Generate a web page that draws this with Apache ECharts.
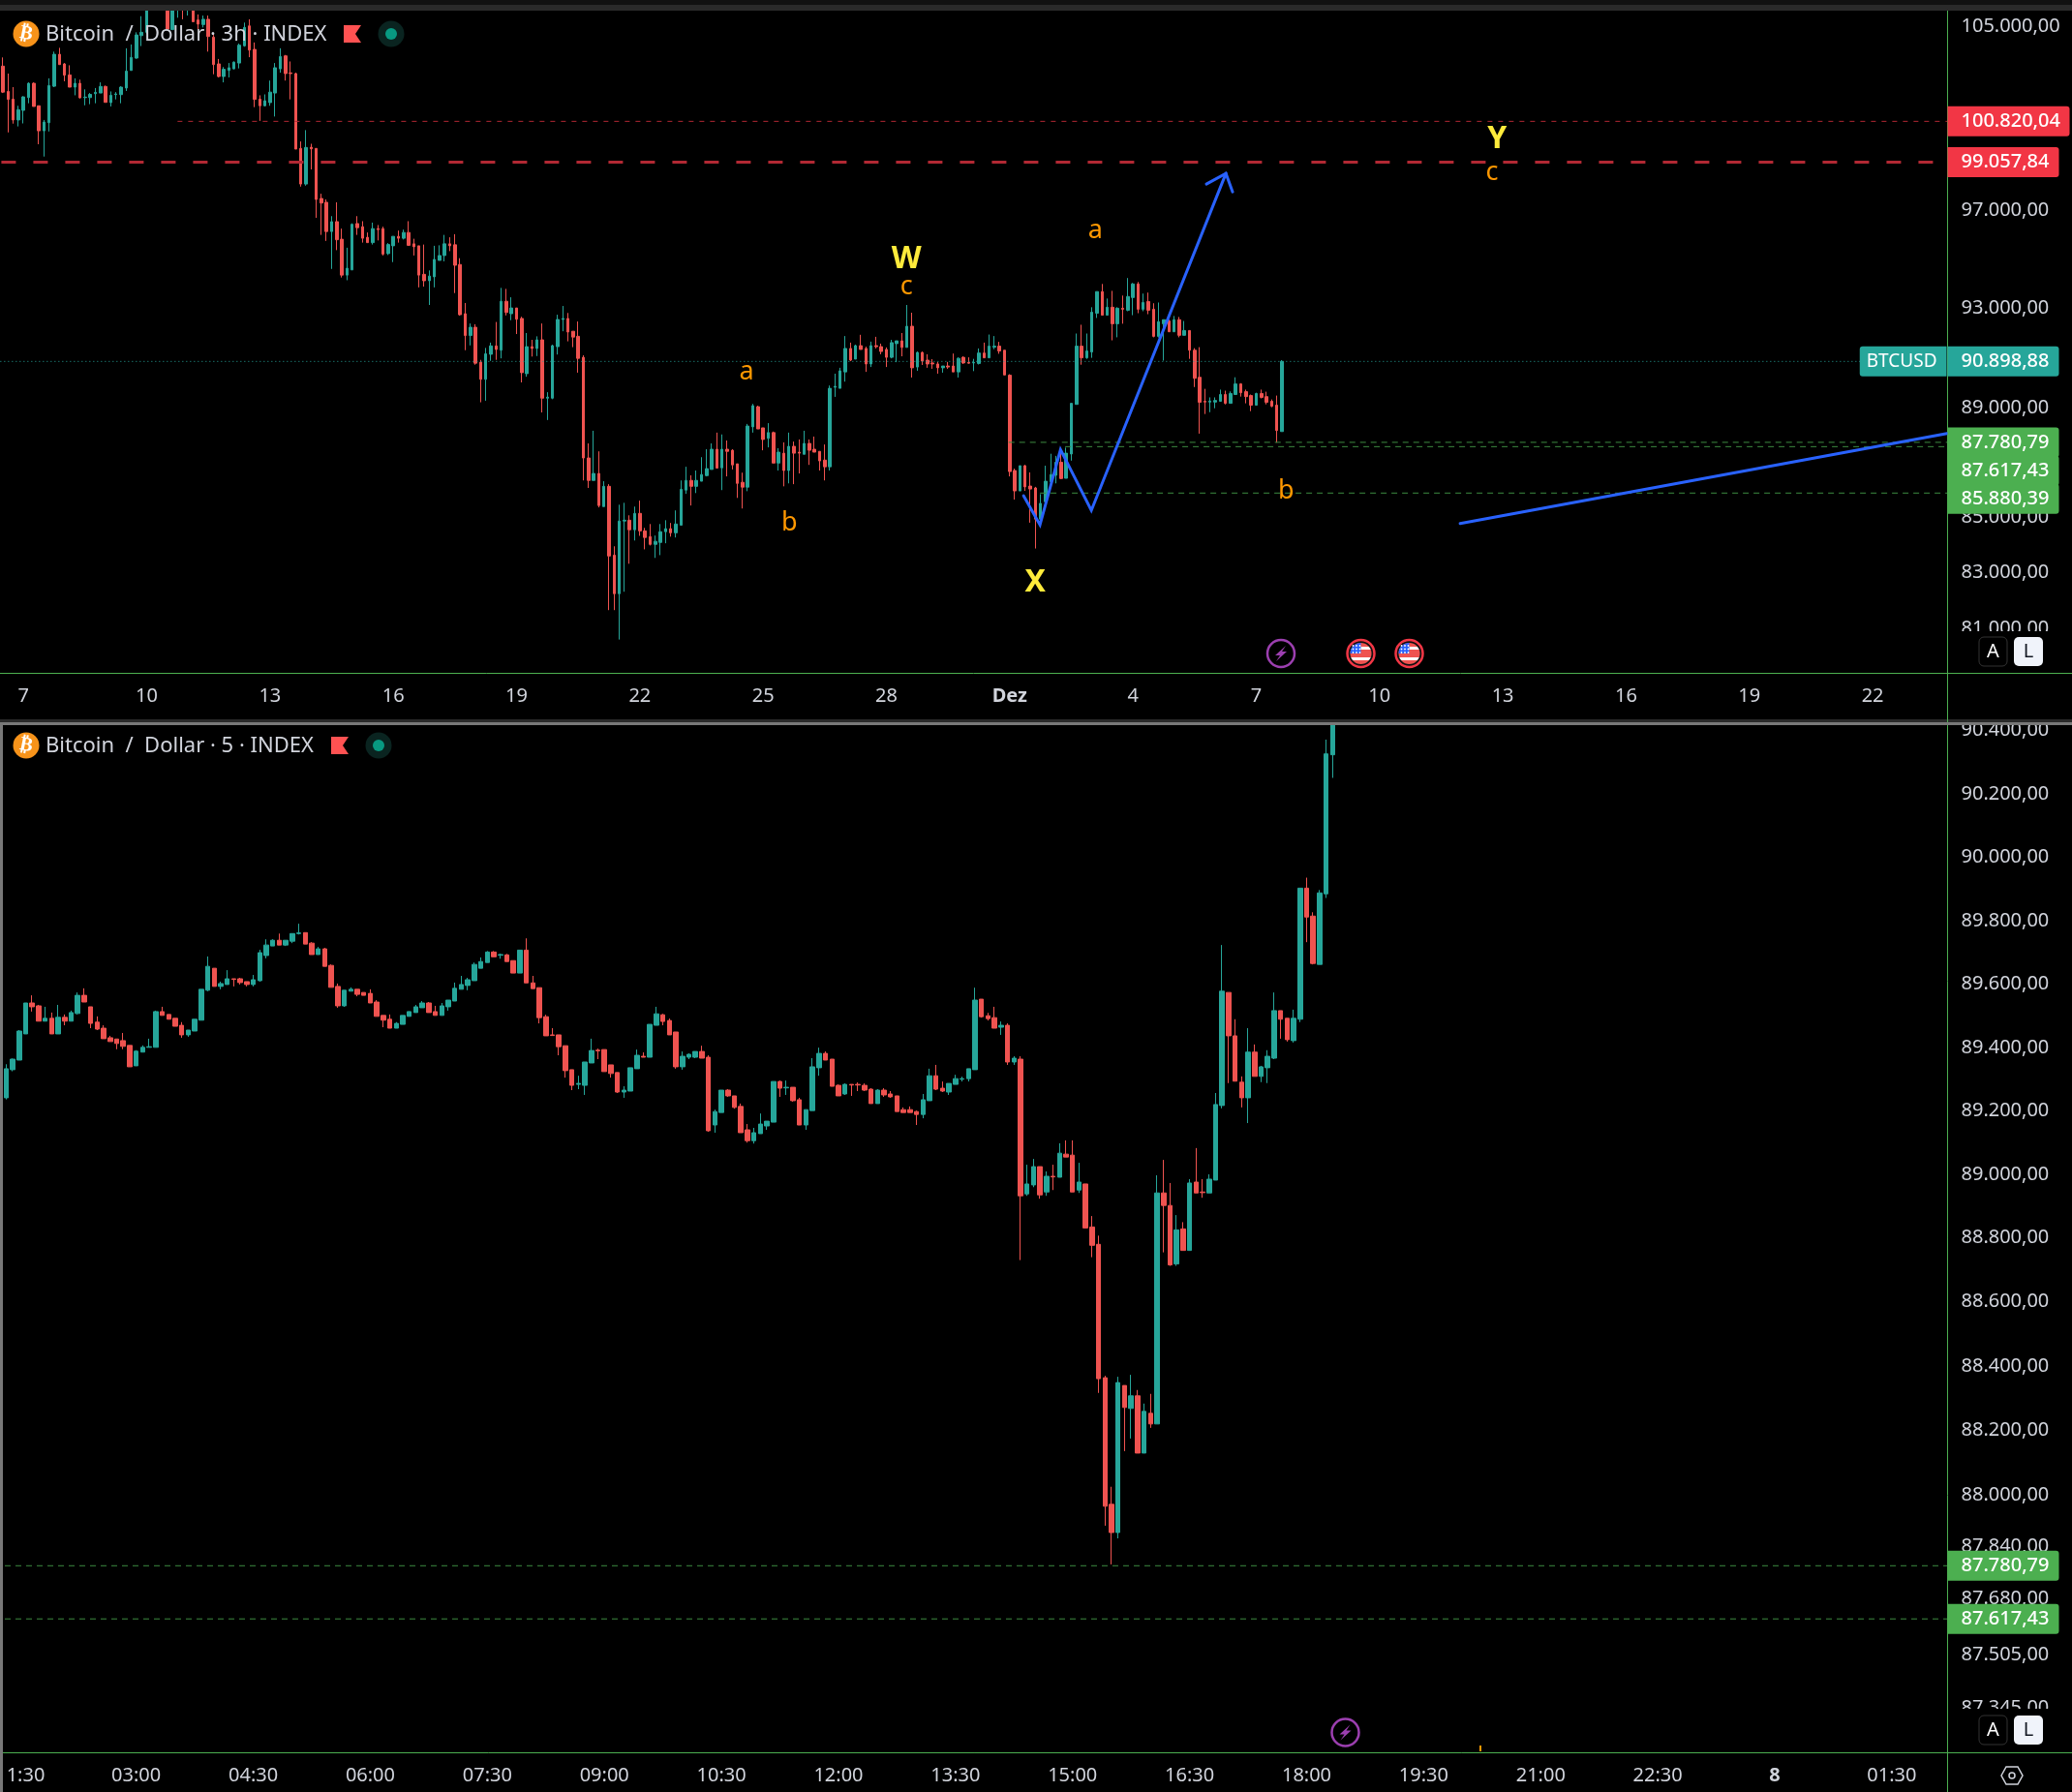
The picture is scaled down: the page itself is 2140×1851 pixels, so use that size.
<!DOCTYPE html>
<html>
<head>
<meta charset="utf-8">
<title>Bitcoin / Dollar</title>
<style>
  html, body { margin: 0; padding: 0; background: #000; }
  #chart { width: 2140px; height: 1851px; }
</style>
<script src="https://cdn.jsdelivr.net/npm/echarts@6/dist/echarts.min.js"></script>
</head>
<body>
<div id="chart"></div>
<script>
// 3h candles, [open, close, low, high]
const candles3h = [
[103250,102100,102060,103640],[102130,101780,100340,102920],[101790,100880,100720,102320],[100880,101330,100600,101500],
[101300,101890,100730,101920],[101860,102490,101610,102530],[102490,101470,101470,102530],[101500,100410,99830,101510],
[100410,100790,99300,100880],[100760,102390,100380,102710],[102360,103780,102320,103900],[103780,103320,103320,104070],
[103350,102850,102580,103390],[102860,102320,102320,103290],[102320,102490,101960,102710],[102490,101850,101820,102650],
[101860,101880,101520,102220],[101860,102000,101570,102060],[102030,102090,101610,102280],[102060,102350,102060,102530],
[102350,101650,101640,102390],[101640,101960,101470,102130],[101990,102020,101780,102100],[101990,102320,101610,102360],
[102280,103030,102150,104050],[103060,103640,103060,104220],[103610,104650,103580,104770],[104620,104770,104150,105500],
[104770,105900,104700,106200],[105900,106300,105800,106600],[106300,106500,106000,106900],[106500,106200,106000,106800],
[106200,104920,104920,106500],[104890,106000,104890,106300],[105900,106100,105430,106300],[106200,105900,105360,106400],
[105800,106100,105530,106300],[106000,105250,105250,106200],[105330,105140,104920,105580],[105120,105360,104990,105530],
[105360,104580,103900,105530],[104550,103320,102890,104650],[103350,102790,102750,103570],[102790,103110,102530,103210],
[103060,103180,102750,103390],[103130,103430,103110,103460],[103390,104190,103150,104260],[104160,104990,104120,105210],
[105060,103970,103650,105360],[104000,101780,101440,104310],[101790,101500,100840,101960],[101500,101720,101470,102000],
[101640,102100,101500,102610],[102060,103180,101030,103390],[103130,103680,102960,104050],[103710,102920,102610,103750],
[102950,102920,101780,103460],[102920,99620,99620,102960],[99650,98130,98020,99950],[98130,99690,98060,100440],
[99700,99630,98750,99850],[99650,97480,96710,99660],[97520,97330,96000,97720],[97360,96140,95750,97480],
[96140,96550,94600,96780],[96550,95800,95370,97360],[95820,94350,94250,96260],[94350,94630,94140,95470],
[94560,96440,94560,96480],[96470,96300,96000,96780],[96340,95860,95680,96570],[95900,95680,95680,96100],
[95680,96260,95600,96510],[96260,96220,95770,96410],[96260,95210,95150,96340],[95230,95600,95170,95660],
[95550,95940,94880,95940],[95940,95860,95680,96180],[95860,96100,95810,96220],[96100,95570,95550,96570],
[95630,95510,95150,95840],[95550,94350,93850,95550],[94380,94120,93880,95600],[94120,94310,93140,94540],
[94280,94990,93850,95550],[94950,95150,94950,95570],[95150,95630,94910,96000],[95630,95550,95330,95900],
[95590,94750,93620,96030],[94780,92750,92710,95040],[92790,91920,91340,93220],[91920,92250,91530,92400],
[92250,90830,90770,92370],[90870,90200,89310,90960],[90200,91200,89370,91430],[91180,91510,90920,91640],
[91510,91370,90960,92460],[91340,93290,91020,93830],[93290,92840,92720,93790],[92790,93020,92530,93450],
[93020,92570,91980,93020],[92600,90460,90080,92670],[90420,91480,90300,92020],[91480,91410,91090,91750],
[91410,91750,91110,91890],[91750,89470,88920,92400],[89470,89510,88630,89700],[89470,91520,89430,91560],
[91480,92560,91170,92750],[92560,92600,92090,93100],[92600,92060,91690,92820],[92090,91860,91460,92090],
[91890,91020,90460,92480],[91060,87190,86350,91140],[87190,86350,86070,87740],[86350,86610,86350,88220],
[86610,85420,85350,87440],[85380,86130,85380,86320],[86130,83580,81650,86210],[83610,82230,81650,83930],
[82230,84850,80620,85450],[84850,84880,82300,85520],[84880,84530,83300,85060],[84530,85130,84140,85380],
[85130,84490,84310,85600],[84490,84250,83820,84600],[84280,84000,83960,84740],[84000,84110,83510,84320],
[84070,84460,83610,84740],[84460,84570,84040,84880],[84570,84420,84280,84780],[84420,84740,84250,85240],
[84700,86020,84700,86350],[85990,86350,85850,86860],[86350,86130,85420,86540],[86130,86350,85880,86720],
[86320,86570,86320,87220],[86530,86790,86500,87520],[86760,87520,86760,87740],[87520,86810,86790,88150],
[86820,87520,85990,88080],[87520,87440,86500,87850],[87480,86930,86760,87520],[86970,86240,85700,86970],
[86280,86100,85310,86640],[86100,88400,85950,88480],[88370,89180,88150,89250],[89140,88290,88290,89180],
[88330,87890,87480,88330],[87930,88150,87590,88510],[88150,87000,87000,88190],[87000,87410,86720,87560],
[87370,86720,86130,87780],[86720,87630,86240,88150],[87630,87370,86210,87810],[87410,87370,86610,87890],
[87330,87740,87330,88220],[87740,87480,86930,87890],[87520,87410,87410,88000],[87440,87080,86720,87440],
[87110,86860,86350,87700],[86860,89850,86720,89960],[89890,89930,89520,90420],[89850,90530,89850,90650],
[90490,91410,90110,91900],[91410,90950,90910,91640],[90990,91520,90990,91560],[91520,91370,91370,91950],
[91410,90800,90490,91480],[90800,91520,90680,91680],[91520,91480,91410,91870],[91480,91290,91180,91600],
[91370,91060,90680,91450],[91060,91640,91020,91750],[91600,91710,90870,91710],[91710,91450,91100,92020],
[91450,92290,91450,93140],[92290,90650,90270,92830],[90680,91250,90530,91290],[91250,90910,90760,91290],
[90950,90800,90650,91180],[90840,90800,90610,90990],[90800,90650,90420,90880],[90650,90720,90460,90720],
[90720,90680,90610,90880],[90720,90490,90490,91210],[90490,91020,90270,91060],[91060,90840,90800,91100],
[90860,90830,90810,91060],[90840,90860,90520,91000],[90820,91230,90780,91410],[91230,91040,91040,91640],
[91040,91500,91040,91960],[91460,91500,91380,91900],[91500,91310,91200,91670],[91340,90370,90370,91340],
[90360,86680,86500,90400],[86720,85960,85640,86790],[85960,86900,85960,86900],[86900,86110,85960,86930],
[86140,86030,84790,86650],[86070,84920,83850,86110],[84920,85500,84920,85840],[85560,86320,85460,86900],
[86300,86570,86300,87350],[86540,87030,86240,87270],[87030,86420,86400,87390],[86430,87370,86430,87580],
[87340,89270,87090,89270],[89230,91500,89230,92000],[91500,91040,90770,92350],[91040,91310,91000,92000],
[91270,92850,91040,93050],[92810,93680,92620,93680],[93680,92730,92730,93990],[92730,93050,92730,93400],
[93050,92390,91730,93710],[92390,93010,91850,93050],[93010,92970,92390,93520],[92930,93480,92890,94230],
[93440,93990,92730,94030],[93990,92970,92810,94070],[92970,93240,92890,93600],[93280,92930,92770,93640],
[92970,91890,91850,93210],[91890,92470,91840,93240],[92390,92550,90930,92550],[92500,92070,92070,92550],
[92070,92550,92070,92700],[92550,91930,91850,92660],[91930,92120,91930,92500],[92120,91340,91000,92120],
[91340,90240,89900,91420],[90280,89310,88110,91460],[89350,89320,88860,89830],[89320,89360,88930,89500],
[89320,89380,89080,89500],[89350,89610,89350,89800],[89610,89270,89230,89760],[89270,89650,89270,89730],
[89610,90020,89610,90280],[90020,89680,89530,90050],[89720,89530,89270,89800],[89570,89200,88970,89610],
[89200,89650,89200,89680],[89650,89500,89460,89800],[89530,89310,89230,89720],[89350,89160,89120,89420],
[89200,88230,87770,89570],[88190,90900,88190,90950]
];

// 5 minute candles, [open, close, low, high]
const candles5m = [
[89232,89323,89227,89337],[89320,89353,89315,89355],[89350,89441,89350,89444],[89432,89529,89432,89529],
[89529,89517,89502,89553],[89520,89472,89472,89523],[89472,89481,89472,89517],[89481,89432,89432,89499],
[89432,89484,89432,89523],[89484,89472,89459,89493],[89472,89499,89472,89505],[89496,89553,89493,89562],
[89553,89532,89532,89575],[89517,89465,89450,89517],[89469,89447,89444,89487],[89450,89417,89417,89459],
[89420,89408,89408,89426],[89416,89402,89384,89416],[89411,89393,89384,89435],[89396,89329,89329,89396],
[89332,89378,89332,89381],[89375,89390,89375,89396],[89390,89392,89390,89417],[89390,89502,89390,89505],
[89502,89490,89490,89517],[89493,89478,89478,89493],[89481,89456,89456,89481],[89459,89429,89420,89469],
[89429,89444,89423,89444],[89441,89478,89441,89478],[89475,89572,89475,89572],[89569,89644,89566,89675],
[89638,89581,89581,89638],[89581,89590,89572,89596],[89587,89605,89587,89632],[89605,89603,89581,89605],
[89605,89593,89587,89608],[89596,89587,89581,89596],[89587,89602,89581,89617],[89599,89687,89596,89696],
[89678,89711,89669,89729],[89708,89726,89708,89729],[89726,89711,89711,89747],[89711,89726,89708,89726],
[89723,89747,89717,89747],[89747,89749,89744,89778],[89750,89714,89714,89750],[89717,89681,89681,89720],
[89681,89699,89681,89705],[89699,89644,89644,89702],[89647,89578,89578,89650],[89581,89520,89514,89590],
[89520,89569,89517,89569],[89566,89572,89566,89578],[89572,89556,89550,89572],[89562,89553,89553,89562],
[89559,89529,89529,89572],[89532,89487,89487,89538],[89490,89475,89453,89490],[89478,89450,89450,89493],
[89450,89465,89450,89469],[89462,89490,89462,89490],[89487,89502,89487,89502],[89499,89517,89499,89523],
[89514,89529,89514,89535],[89529,89499,89499,89532],[89502,89490,89490,89520],[89490,89520,89490,89529],
[89517,89538,89505,89538],[89535,89575,89535,89593],[89572,89587,89572,89614],[89584,89602,89569,89608],
[89599,89650,89599,89656],[89638,89659,89638,89672],[89656,89689,89656,89692],[89689,89674,89674,89692],
[89679,89681,89668,89684],[89680,89659,89659,89683],[89662,89623,89623,89662],[89623,89695,89623,89695],
[89695,89592,89592,89732],[89592,89574,89574,89614],[89577,89483,89465,89577],[89486,89426,89426,89492],
[89429,89427,89427,89450],[89429,89392,89365,89429],[89395,89317,89295,89395],[89320,89271,89256,89320],
[89274,89277,89259,89301],[89271,89344,89241,89344],[89341,89380,89341,89417],[89381,89379,89353,89386],
[89383,89314,89314,89383],[89335,89308,89295,89335],[89311,89250,89247,89311],[89250,89256,89232,89268],
[89253,89326,89253,89326],[89323,89365,89323,89383],[89362,89359,89359,89374],[89359,89462,89359,89462],
[89459,89495,89459,89517],[89492,89471,89459,89495],[89474,89429,89429,89480],[89438,89329,89323,89438],
[89329,89362,89320,89377],[89359,89368,89353,89371],[89359,89377,89356,89377],[89377,89356,89356,89395],
[89359,89129,89126,89365],[89147,89189,89123,89195],[89186,89256,89186,89256],[89256,89238,89235,89259],
[89238,89202,89198,89238],[89205,89123,89123,89214],[89132,89098,89092,89150],[89098,89123,89089,89138],
[89120,89150,89120,89183],[89144,89159,89132,89159],[89156,89283,89156,89283],[89283,89262,89235,89286],
[89263,89265,89241,89286],[89265,89223,89220,89265],[89226,89147,89147,89232],[89147,89195,89132,89195],
[89192,89329,89192,89356],[89326,89371,89301,89389],[89371,89350,89350,89377],[89353,89268,89268,89353],
[89271,89238,89238,89274],[89244,89274,89241,89277],[89274,89272,89238,89274],[89274,89272,89253,89280],
[89271,89256,89253,89277],[89259,89214,89214,89262],[89214,89256,89214,89259],[89256,89241,89235,89262],
[89244,89235,89232,89253],[89238,89189,89189,89238],[89195,89186,89186,89202],[89195,89186,89186,89205],
[89189,89180,89147,89192],[89180,89226,89168,89244],[89223,89301,89223,89323],[89301,89259,89256,89335],
[89262,89253,89250,89283],[89250,89277,89241,89277],[89274,89292,89274,89304],[89290,89292,89283,89298],
[89292,89323,89283,89323],[89320,89538,89320,89577],[89541,89486,89483,89541],[89489,89480,89474,89498],
[89483,89450,89450,89517],[89453,89459,89429,89471],[89459,89344,89335,89465],[89344,89356,89335,89362],
[89353,88926,88726,89362],[88932,88963,88926,89023],[88960,89017,88953,89041],[89017,88929,88917,89017],
[88938,88987,88926,89002],[88987,88985,88944,89023],[88984,89059,88984,89090],[89056,89047,89047,89099],
[89053,88938,88938,89099],[88944,88969,88935,89029],[88963,88826,88826,88963],[88829,88772,88735,88863],
[88775,88358,88314,88802],[88361,87964,87904,88367],[87970,87883,87785,88024],[87883,88346,87865,88364],
[88337,88269,88134,88337],[88266,88305,88173,88370],[88305,88128,88128,88323],[88128,88257,88128,88281],
[88251,88218,88206,88311],[88218,88935,88218,88990],[88935,88896,88750,89038],[88896,88711,88708,88966],
[88714,88820,88708,88866],[88823,88756,88756,88844],[88756,88966,88756,88978],[88969,88935,88935,89075],
[88938,88936,88920,88978],[88935,88978,88935,88993],[88975,89211,88975,89247],[89208,89566,89199,89711],
[89562,89426,89278,89562],[89426,89284,89284,89478],[89281,89232,89202,89299],[89232,89375,89153,89450],
[89375,89299,89299,89399],[89299,89329,89281,89332],[89326,89362,89278,89381],[89356,89505,89353,89562],
[89505,89478,89417,89505],[89481,89414,89408,89481],[89411,89481,89405,89508],[89478,89890,89469,89890],
[89890,89799,89720,89923],[89802,89653,89650,89814],[89650,89875,89650,89884],[89872,90314,89859,90359],
[90311,90408,90238,90408]
];

// time axis labels and the candle slot each one sits on
const topDayLabels = ['7','10','13','16','19','22','25','28','{b|Dez}','4','7','10','13','16','19','22'];
const topDaySlots = [4,28,52,76,100,124,148,172,196,220,244,268,292,316,340,364];
const lowTimeLabels = ['1:30','03:00','04:30','06:00','07:30','09:00','10:30','12:00','13:30','15:00','16:30','18:00','19:30','21:00','22:30','{b|8}','01:30'];
const lowTimeSlots = [3,20,38,56,74,92,110,128,146,164,182,200,218,236,254,272,290];

// price scale labels
const topPriceTicks = [105000,97000,93000,89000,85000,83000,81000];
const lowPriceTicks = [90400,90200,90000,89800,89600,89400,89200,89000,88800,88600,88400,88200,88000,87840,87680,87505,87345];
// small pixel shifts, the original scale rounds its labels a bit differently
const topTickShift = [-1,-1,0,-3,0,0,0];
const lowTickShift = [4,4,4,4,4,4,3,3,1,1,1,0,1,0,0,-1,0];

// levels drawn across the panes, price and first candle slot
const btcLast = 90898.88;
const redThin = 100820.04;
const redThinFrom = 34.5;
const redThick = 99057.84;
const greenLevels = [87780.79, 87617.43, 85880.39];
const greenFrom = [196.3, 207.3, 202.4];
const lowLevels = [87780.79, 87617.43];

// blue drawings on the upper pane, slot and price of each vertex
const zigzagSlots = [199.2, 202.4, 206.4, 212.4, 238.6];
const zigzagPrices = [85780, 84710, 87510, 85240, 98580];
const arrowSlots = [234.8, 238.6, 239.9];
const arrowPrices = [98130, 98580, 97800];
const trendSlots = [284.2, 379];
const trendPrices = [84760, 88120];

// wave letters
const waveText = ['W', 'X', 'Y'];
const waveSlots = [176.4, 201.5, 291.4];
const wavePrices = [95060, 82675, 100120];
const subText = ['c', 'a', 'b', 'a', 'b', 'c'];
const subSlots = [176.4, 145.3, 153.6, 213.2, 250.3, 290.4];
const subPrices = [93910, 90530, 84820, 96220, 85990, 98670];

const TOP_SLOTS = 379;
const LOW_SLOTS = 299;
const UP = '#26a69a';
const DOWN = '#ef5350';
const AXIS_GREEN = '#4caf50';
const TEXT = '#d1d4dc';
const FONT = '"Noto Sans", sans-serif';
const CLEAR = { color: 'rgba(0,0,0,0)', opacity: 1 };

const deNum = v => {
  const [a, b] = v.toFixed(2).split('.');
  return a.replace(/\B(?=(\d{3})+$)/g, '.') + ',' + b;
};

const slotLabels = (count, slots, labels) => {
  const out = new Array(count).fill('');
  slots.forEach((s, i) => { out[s] = labels[i]; });
  return out;
};

const timeAxis = (gridIndex, data) => ({
  type: 'category',
  gridIndex,
  data,
  boundaryGap: true,
  axisLine: { onZero: false, lineStyle: { color: AXIS_GREEN, width: 1 } },
  axisTick: { show: false },
  splitLine: { show: false },
  axisLabel: {
    interval: 0,
    color: TEXT,
    fontSize: 20,
    fontFamily: FONT,
    margin: 14,
    hideOverlap: false,
    rich: { b: { fontWeight: 'bold', fontSize: 20, color: TEXT, fontFamily: FONT } }
  }
});

const slotAxis = (gridIndex, max) => ({ type: 'value', gridIndex, min: 0, max, show: false });

const priceAxis = (gridIndex, min, max) => ({
  type: 'log',
  gridIndex,
  min,
  max,
  position: 'right',
  axisLine: { show: true, onZero: false, lineStyle: { color: AXIS_GREEN, width: 1 } },
  axisTick: { show: false },
  axisLabel: { show: false },
  splitLine: { show: false },
  minorTick: { show: false }
});

const candleSeries = (xAxisIndex, yAxisIndex, data, barWidth) => ({
  type: 'candlestick',
  xAxisIndex,
  yAxisIndex,
  data,
  barWidth,
  z: 2,
  silent: true,
  itemStyle: { color: UP, color0: DOWN, borderColor: UP, borderColor0: DOWN, borderWidth: 1 }
});

const levelLine = (xAxisIndex, yAxisIndex, from, to, price, color, width, dash) => ({
  type: 'line',
  xAxisIndex,
  yAxisIndex,
  data: [[from, price], [to, price]],
  symbol: 'none',
  silent: true,
  z: 3,
  lineStyle: { color, width, type: dash }
});

const blueLine = (slots, prices) => ({
  type: 'line',
  xAxisIndex: 1,
  yAxisIndex: 0,
  data: slots.map((s, i) => [s, prices[i]]),
  symbol: 'none',
  silent: true,
  z: 4,
  clip: false,
  lineStyle: { color: '#2962ff', width: 3, cap: 'round', join: 'miter' }
});

const tickLabels = (xAxisIndex, yAxisIndex, slot, ticks, shift) => ({
  type: 'scatter',
  xAxisIndex,
  yAxisIndex,
  data: ticks.map((t, i) => ({
    value: [slot, t],
    label: {
      show: true,
      position: 'right',
      distance: 14,
      offset: [0, shift[i]],
      color: TEXT,
      fontSize: 20,
      fontFamily: FONT,
      formatter: deNum(t)
    }
  })),
  symbolSize: 1,
  clip: false,
  silent: true,
  z: 3,
  itemStyle: CLEAR
});

const priceTag = (slot, price, bg, dy, wide) => ({
  value: [slot, price],
  label: {
    show: true,
    position: 'right',
    distance: 0,
    offset: [0, dy],
    formatter: deNum(price),
    color: '#fff',
    fontSize: 20,
    fontWeight: 500,
    fontFamily: FONT,
    backgroundColor: bg,
    width: wide ? 112 : 101,
    height: 31,
    lineHeight: 31,
    padding: [0, 0, 0, 14],
    borderRadius: [0, 3, 3, 0]
  }
});

const tagSeries = (xAxisIndex, yAxisIndex, data) => ({
  type: 'scatter',
  xAxisIndex,
  yAxisIndex,
  data,
  symbolSize: 1,
  clip: false,
  silent: true,
  z: 6,
  itemStyle: CLEAR
});

const letters = (text, slots, prices, color, size, weight, dy) => ({
  type: 'scatter',
  xAxisIndex: 1,
  yAxisIndex: 0,
  data: slots.map((s, i) => [s, prices[i], text[i]]),
  symbolSize: 1,
  clip: false,
  silent: true,
  z: 5,
  itemStyle: CLEAR,
  label: {
    show: true,
    position: 'inside',
    offset: [0, dy],
    color,
    fontSize: size,
    fontWeight: weight,
    fontFamily: FONT,
    formatter: p => p.value[2]
  }
});

// header, buttons and calendar markers are plain decoration
const rect = (x, y, w, h, fill, r) => ({ type: 'rect', z: 100, silent: true, shape: { x, y, width: w, height: h, r: r || 0 }, style: { fill } });
const disc = (cx, cy, r, style) => ({ type: 'circle', z: 101, silent: true, shape: { cx, cy, r }, style });
const label = (x, y, text, size, fill, extra) => ({
  type: 'text', z: 102, silent: true, x, y,
  style: Object.assign({ text, fontSize: size, fill, fontFamily: FONT, verticalAlign: 'middle', align: 'left' }, extra || {})
});

const header = (y, title, flagX, dotX) => [
  disc(27, y, 13.5, { fill: '#f7931a' }),
  Object.assign(label(27, y, '\u20bf', 20, '#fff', { align: 'center', fontWeight: 'bold', fontFamily: '"DejaVu Sans"' }), { rotation: -0.2 }),
  label(47, y + 1, title, 22, TEXT),
  { type: 'polygon', z: 101, silent: true, shape: { points: [[flagX, y - 9], [flagX + 18, y - 9], [flagX + 12, y], [flagX + 18, y + 9], [flagX, y + 9]] }, style: { fill: '#ff5252' } },
  disc(dotX, y, 13.5, { fill: '#0a2420' }),
  disc(dotX, y, 6, { fill: '#089981' })
];

const buttons = y => [
  { type: 'rect', z: 101, silent: true, shape: { x: 2044, y: y - 15, width: 29, height: 30, r: 5 }, style: { fill: '#000', stroke: '#333', lineWidth: 1 } },
  label(2058.5, y, 'A', 20, '#fff', { align: 'center' }),
  rect(2080, y - 15, 30, 30, '#f0f3fa', 5),
  label(2095, y, 'L', 20, '#131722', { align: 'center' })
];

const bolt = (cx, cy) => [
  disc(cx, cy, 14, { fill: '#000', stroke: '#9c3fb0', lineWidth: 2.5 }),
  { type: 'polygon', z: 102, silent: true, shape: { points: [[cx + 5, cy - 8], [cx - 6, cy + 2], [cx - 1, cy + 2], [cx - 5, cy + 8], [cx + 6, cy - 2], [cx + 1, cy - 2]] }, style: { fill: '#9c3fb0' } }
];

const usFlag = (cx, cy) => {
  const bands = ['#ef5350', '#ffffff', '#ef5350', '#ef5350', '#ffffff', '#ef5350'];
  const stops = [];
  bands.forEach((c, i) => {
    stops.push({ offset: i / bands.length, color: c }, { offset: (i + 1) / bands.length, color: c });
  });
  const dots = [];
  for (let r = 0; r < 3; r++) {
    for (let c = 0; c < 3; c++) {
      dots.push(disc(cx - 8 + c * 3.5, cy - 8 + r * 3.5, 0.9, { fill: '#fff' }));
    }
  }
  dots.forEach(d => { d.z = 103; });
  return [
    disc(cx, cy, 14, { fill: '#111', stroke: '#f23645', lineWidth: 2.5 }),
    disc(cx, cy, 11, { fill: new echarts.graphic.LinearGradient(0, 0, 0, 1, stops) }),
    { type: 'sector', z: 102, silent: true, shape: { cx, cy, r: 11, r0: 0, startAngle: Math.PI, endAngle: Math.PI * 1.5 }, style: { fill: '#2962ff' } },
    ...dots
  ];
};

const graphicItems = [
  // cover strips that cut the scale labels where the panes end
  rect(0, 0, 2140, 5, '#111111'),
  rect(0, 5, 2140, 6, '#2a2a2a'),
  rect(0, 743, 2140, 3, '#2a2a2a'),
  rect(0, 746, 2140, 3, '#787878'),
  rect(0, 746, 3, 1105, '#787878'),
  rect(2012, 652, 128, 43, '#000000'),
  rect(2012, 1765, 128, 45, '#000000'),
  { type: 'line', z: 100, silent: true, shape: { x1: 2011.5, y1: 695, x2: 2011.5, y2: 746 }, style: { stroke: AXIS_GREEN, lineWidth: 1 } },
  { type: 'line', z: 100, silent: true, shape: { x1: 2011.5, y1: 1810, x2: 2011.5, y2: 1851 }, style: { stroke: AXIS_GREEN, lineWidth: 1 } },
  { type: 'line', z: 100, silent: true, shape: { x1: 2011, y1: 695.5, x2: 2140, y2: 695.5 }, style: { stroke: AXIS_GREEN, lineWidth: 1 } },
  { type: 'line', z: 100, silent: true, shape: { x1: 2011, y1: 1810.5, x2: 2140, y2: 1810.5 }, style: { stroke: AXIS_GREEN, lineWidth: 1 } },
  rect(1528, 1803, 2, 6, '#ff9800'),
  ...header(35, 'Bitcoin  /  Dollar \u00b7 3h \u00b7 INDEX', 355, 404),
  ...header(770, 'Bitcoin  /  Dollar \u00b7 5 \u00b7 INDEX', 342, 391),
  ...buttons(673),
  ...buttons(1787),
  ...bolt(1323, 675),
  ...usFlag(1405.5, 675),
  ...usFlag(1455.5, 675),
  ...bolt(1389.5, 1789.5),
  { type: 'polygon', z: 101, silent: true, shape: { points: [[2067, 1834], [2072, 1825], [2084, 1825], [2089, 1834], [2084, 1843], [2072, 1843]] }, style: { fill: 'none', stroke: TEXT, lineWidth: 1.5 } },
  disc(2078, 1834, 3, { fill: 'none', stroke: TEXT, lineWidth: 1.5 })
];

const chart = echarts.init(document.getElementById('chart'), null, { renderer: 'canvas' });

chart.setOption({
  backgroundColor: '#000000',
  animation: false,
  tooltip: { show: false },
  textStyle: { fontFamily: FONT },
  grid: [
    { left: 0, top: 11, width: 2011, height: 684 },
    { left: 3, top: 748, width: 2008, height: 1062 }
  ],
  xAxis: [
    timeAxis(0, slotLabels(TOP_SLOTS, topDaySlots, topDayLabels)),
    slotAxis(0, TOP_SLOTS),
    timeAxis(1, slotLabels(LOW_SLOTS, lowTimeSlots, lowTimeLabels)),
    slotAxis(1, LOW_SLOTS)
  ],
  yAxis: [
    priceAxis(0, 79470, 105753),
    priceAxis(1, 87208.8, 90408)
  ],
  series: [
    candleSeries(0, 0, candles3h, 3),
    candleSeries(2, 1, candles5m, 5),

    levelLine(1, 0, redThinFrom, TOP_SLOTS, redThin, '#b22833', 1, [5, 6]),
    levelLine(1, 0, 0.2, TOP_SLOTS, redThick, '#b22833', 3, [15, 18]),
    levelLine(1, 0, 0, 362.2, btcLast, UP, 1, [1, 3]),
    ...greenLevels.map((p, i) => levelLine(1, 0, greenFrom[i], TOP_SLOTS, p, '#3d8b40', 1, [6, 5])),
    ...lowLevels.map(p => levelLine(3, 1, 0.3, LOW_SLOTS, p, '#3d8b40', 1, [6, 5])),

    blueLine(zigzagSlots, zigzagPrices),
    blueLine(arrowSlots, arrowPrices),
    blueLine(trendSlots, trendPrices),

    letters(waveText, waveSlots, wavePrices, '#ffeb3b', 32, 'bold', 2),
    letters(subText, subSlots, subPrices, '#ff9800', 27, 'normal', 1),

    tickLabels(1, 0, TOP_SLOTS, topPriceTicks, topTickShift),
    tickLabels(3, 1, LOW_SLOTS, lowPriceTicks, lowTickShift),

    tagSeries(1, 0, [
      priceTag(TOP_SLOTS, redThin, '#f23645', 0, true),
      priceTag(TOP_SLOTS, redThick, '#f23645', 0),
      priceTag(TOP_SLOTS, btcLast, UP, 0),
      priceTag(TOP_SLOTS, greenLevels[0], AXIS_GREEN, 0),
      priceTag(TOP_SLOTS, greenLevels[1], AXIS_GREEN, 25),
      priceTag(TOP_SLOTS, greenLevels[2], AXIS_GREEN, 6),
      {
        value: [TOP_SLOTS, btcLast],
        label: {
          show: true,
          position: 'left',
          distance: 0,
          formatter: 'BTCUSD',
          color: '#fff',
          fontSize: 19,
          fontFamily: FONT,
          backgroundColor: UP,
          height: 31,
          lineHeight: 31,
          padding: [0, 10, 0, 7],
          borderRadius: [3, 0, 0, 3]
        }
      }
    ]),
    tagSeries(3, 1, [
      priceTag(LOW_SLOTS, lowLevels[0], AXIS_GREEN, 0),
      priceTag(LOW_SLOTS, lowLevels[1], AXIS_GREEN, 0)
    ])
  ],
  graphic: { elements: graphicItems }
});
</script>
</body>
</html>
